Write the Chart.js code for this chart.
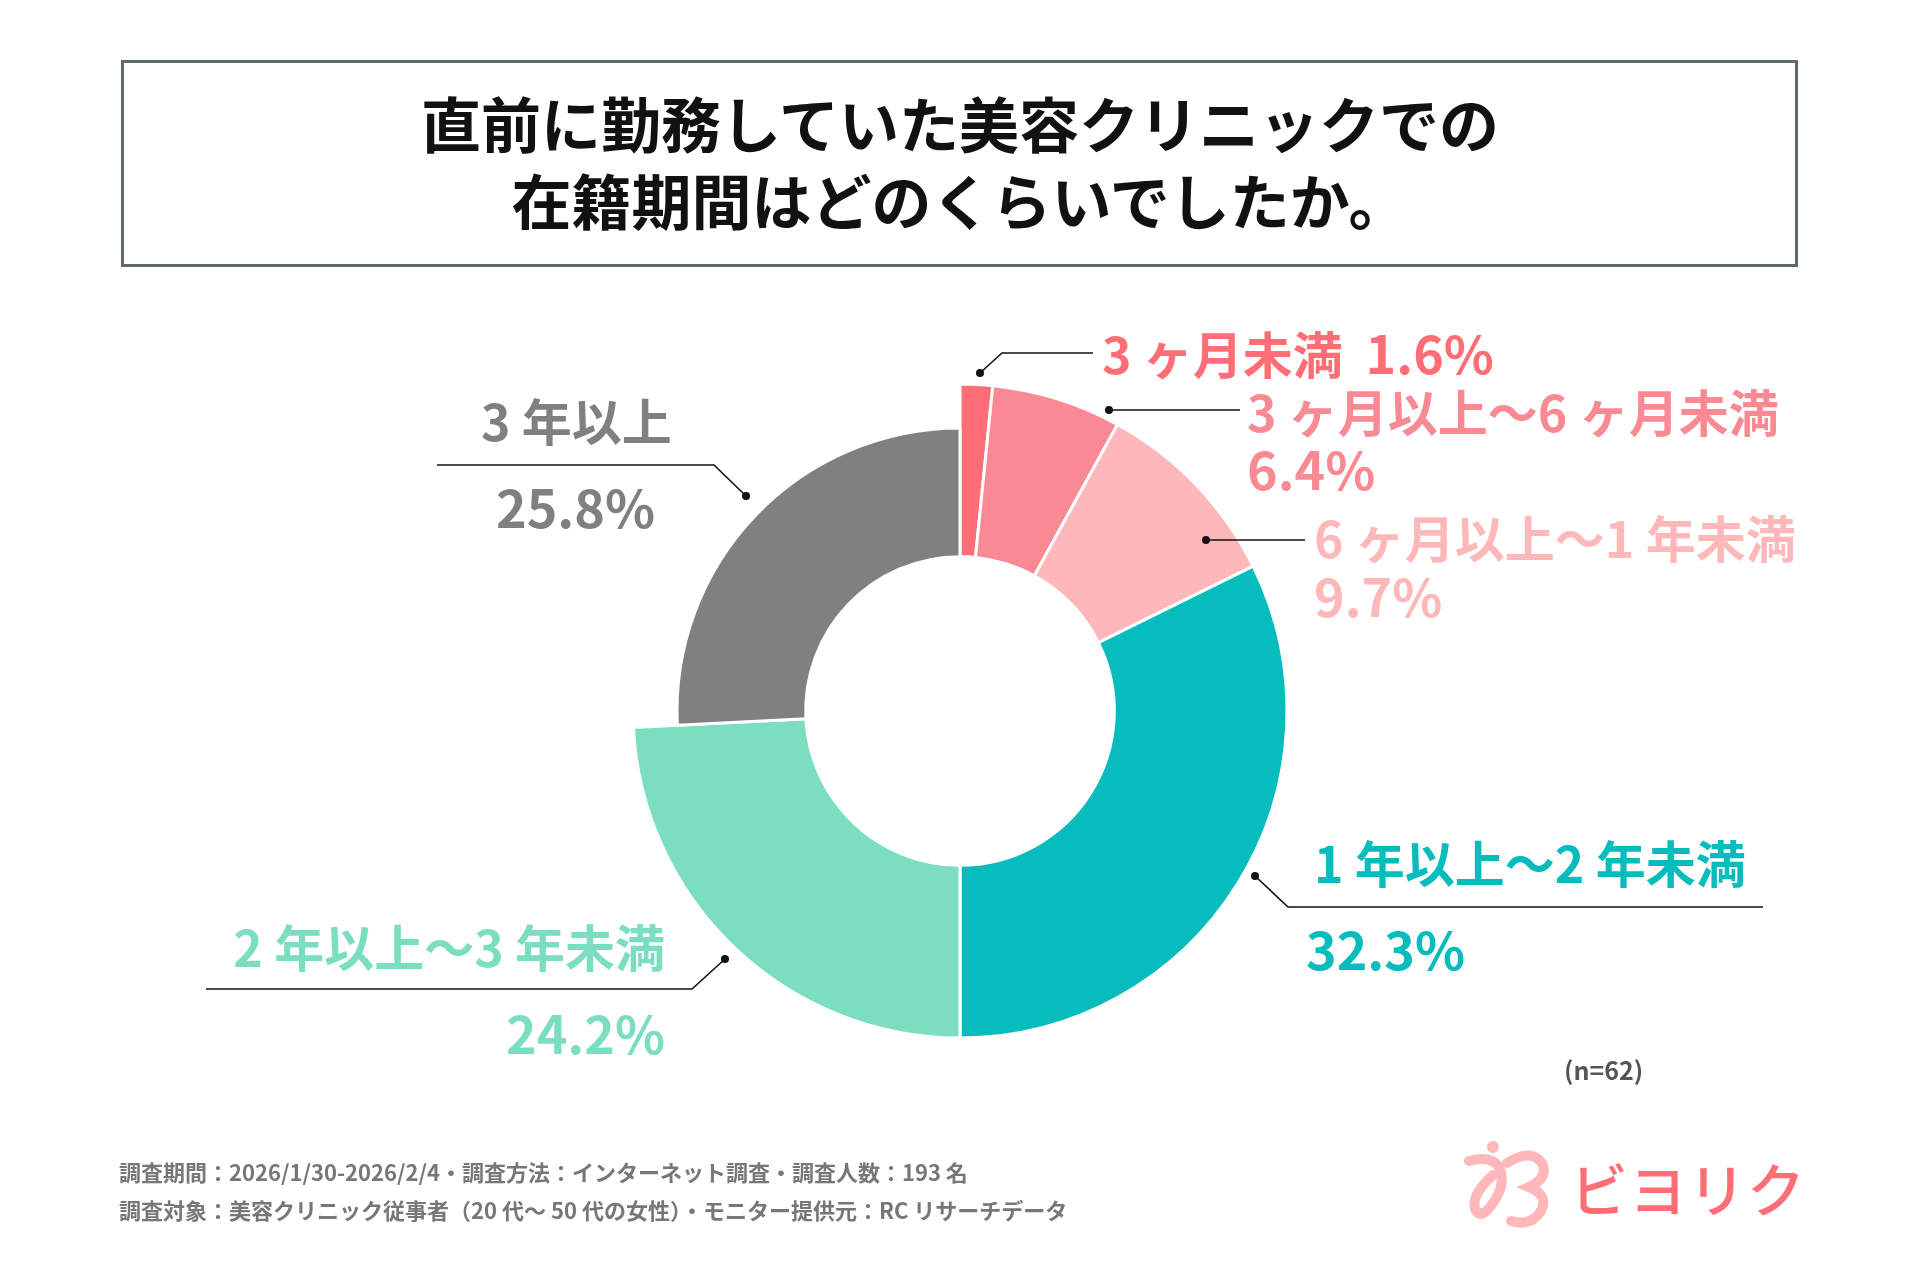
<!DOCTYPE html>
<html lang="ja">
<head>
<meta charset="utf-8">
<title>在籍期間</title>
<script src="https://cdn.jsdelivr.net/npm/chart.js@4.4.0/dist/chart.umd.min.js"></script>
<style>
  html, body { margin: 0; padding: 0; background: #fff; }
  body { width: 1920px; height: 1280px; position: relative; overflow: hidden;
         font-family: "Noto Sans CJK JP", "Noto Sans", sans-serif; }
  #chart { position: absolute; left: 0; top: 0; }
  .title-box { position: absolute; left: 121px; top: 60px; width: 1671px; height: 201px;
               border: 3px solid #5e6a6e; box-sizing: content-box; }
  .title { position: absolute; left: 0; right: 0; text-align: center; font-weight: 700;
           font-size: 60px; line-height: 1; color: #111; }
  .lbl { position: absolute; font-weight: 700; white-space: pre; line-height: 1; }
  .lbl.right { text-align: right; }
  .name { font-size: 50px; }
  .pct { font-size: 52px; }
  #leaders { position: absolute; left: 0; top: 0; }
  .note { position: absolute; font-weight: 700; color: #555; font-size: 25px; line-height: 1; }
  .foot { position: absolute; left: 119px; font-weight: 700; color: #777; font-size: 22px; line-height: 1; white-space: pre; }
  .logo { position: absolute; left: 1570px; top: 1158px; font-size: 58px; line-height: 1; color: #ff6e76; font-weight: 500; letter-spacing: 1px; }
</style>
</head>
<body>
<canvas id="chart" width="1920" height="1280"></canvas>

<div class="title-box"></div>
<div class="title" style="top:92px">直前に勤務していた美容クリニックでの</div>
<div class="title" style="top:169px">在籍期間はどのくらいでしたか。</div>

<svg id="leaders" width="1920" height="1280"></svg>
<div id="labels"></div>

<div class="note" style="left:1564px; top:1057px">(n=62)</div>
<div class="foot" style="top:1160px">調査期間：2026/1/30-2026/2/4・調査方法：インターネット調査・調査人数：193 名</div>
<div class="foot" style="top:1198px">調査対象：美容クリニック従事者（20 代～ 50 代の女性）・モニター提供元：RC リサーチデータ</div>

<svg style="position:absolute; left:1463px; top:1139px" width="92" height="90" viewBox="0 0 92 90">
  <circle cx="30" cy="8" r="6" fill="#ffb8ba"/>
  <path d="M6 22 Q28 16 36 28 Q44 44 30 64 Q18 82 12 70 Q8 56 30 36" fill="none" stroke="#ffb8ba" stroke-width="10" stroke-linecap="round"/>
  <path d="M44 24 Q70 8 80 26 Q84 40 66 48 Q86 56 78 72 Q68 88 48 82" fill="none" stroke="#ffb8ba" stroke-width="10" stroke-linecap="round"/>
</svg>
<div class="logo">ビヨリク</div>

<script>
// データ
const categories = ['3 ヶ月未満', '3 ヶ月以上～6 ヶ月未満', '6 ヶ月以上～1 年未満', '1 年以上～2 年未満', '2 年以上～3 年未満', '3 年以上'];
const shares = [1.6, 6.4, 9.7, 32.3, 24.2, 25.8];
const sliceColors = ['#ff6e76', '#f98a94', '#feb8ba', '#06bcbc', '#7bdec0', '#808080'];

// ラベルと引き出し線の配置（見た目だけ）
const labelLayout = [
  { inline: true, x: 1102, nameY: 326, leader: [[980, 373], [1002, 353], [1093, 353]] },
  { x: 1247, nameY: 385, pctY: 442, leader: [[1109, 410], [1240, 410]] },
  { x: 1314, nameY: 511, pctY: 569, leader: [[1206, 540], [1305, 540]] },
  { x: 1314, pctX: 1306, nameY: 836, pctY: 922, leader: [[1255, 876], [1288, 907], [1763, 907]] },
  { right: 665, nameY: 920, pctY: 1006, leader: [[725, 959], [692, 989], [206, 989]] },
  { x: 481, pctX: 496, nameY: 394, pctY: 480, leader: [[746, 496], [714, 465], [437, 465]] }
];
const shortSlice = 5;      // 「3 年以上」だけ外周が小さい
const shortRadius = 283;

const shrinkSlice = {
  id: 'shrinkSlice',
  afterDatasetUpdate(chart) {
    const arc = chart.getDatasetMeta(0).data[shortSlice];
    if (arc) arc.outerRadius = shortRadius;
  }
};

new Chart(document.getElementById('chart'), {
  type: 'doughnut',
  data: {
    labels: categories,
    datasets: [{
      data: shares,
      backgroundColor: sliceColors,
      borderColor: '#ffffff',
      borderWidth: 3
    }]
  },
  options: {
    responsive: false,
    animation: false,
    radius: 327,
    cutout: '47.2%',
    layout: { padding: { top: 142 } },
    plugins: { legend: { display: false }, tooltip: { enabled: false } }
  },
  plugins: [shrinkSlice]
});

// 引き出し線
const svg = document.getElementById('leaders');
const ns = 'http://www.w3.org/2000/svg';
labelLayout.forEach(l => {
  const line = document.createElementNS(ns, 'polyline');
  line.setAttribute('points', l.leader.map(p => p.join(',')).join(' '));
  line.setAttribute('fill', 'none');
  line.setAttribute('stroke', '#111');
  line.setAttribute('stroke-width', '1.6');
  svg.appendChild(line);
  const dot = document.createElementNS(ns, 'circle');
  dot.setAttribute('cx', l.leader[0][0]);
  dot.setAttribute('cy', l.leader[0][1]);
  dot.setAttribute('r', '4');
  dot.setAttribute('fill', '#111');
  svg.appendChild(dot);
});

// ラベル
const box = document.getElementById('labels');
labelLayout.forEach((l, i) => {
  const pct = shares[i].toFixed(1) + '%';
  const isRight = l.right !== undefined;
  const pos = isRight ? `right:${1920 - l.right}px;` : `left:${l.x}px;`;
  const pctPos = isRight ? pos : `left:${l.pctX || l.x}px;`;
  const cls = isRight ? 'lbl right' : 'lbl';
  if (l.inline) {
    box.insertAdjacentHTML('beforeend',
      `<div class="${cls}" style="${pos} top:${l.nameY}px; color:${sliceColors[i]}"><span class="name">${categories[i]}  </span><span class="pct">${pct}</span></div>`);
  } else {
    box.insertAdjacentHTML('beforeend',
      `<div class="${cls} name" style="${pos} top:${l.nameY}px; color:${sliceColors[i]}">${categories[i]}</div>` +
      `<div class="${cls} pct" style="${pctPos} top:${l.pctY}px; color:${sliceColors[i]}">${pct}</div>`);
  }
});
</script>
</body>
</html>
